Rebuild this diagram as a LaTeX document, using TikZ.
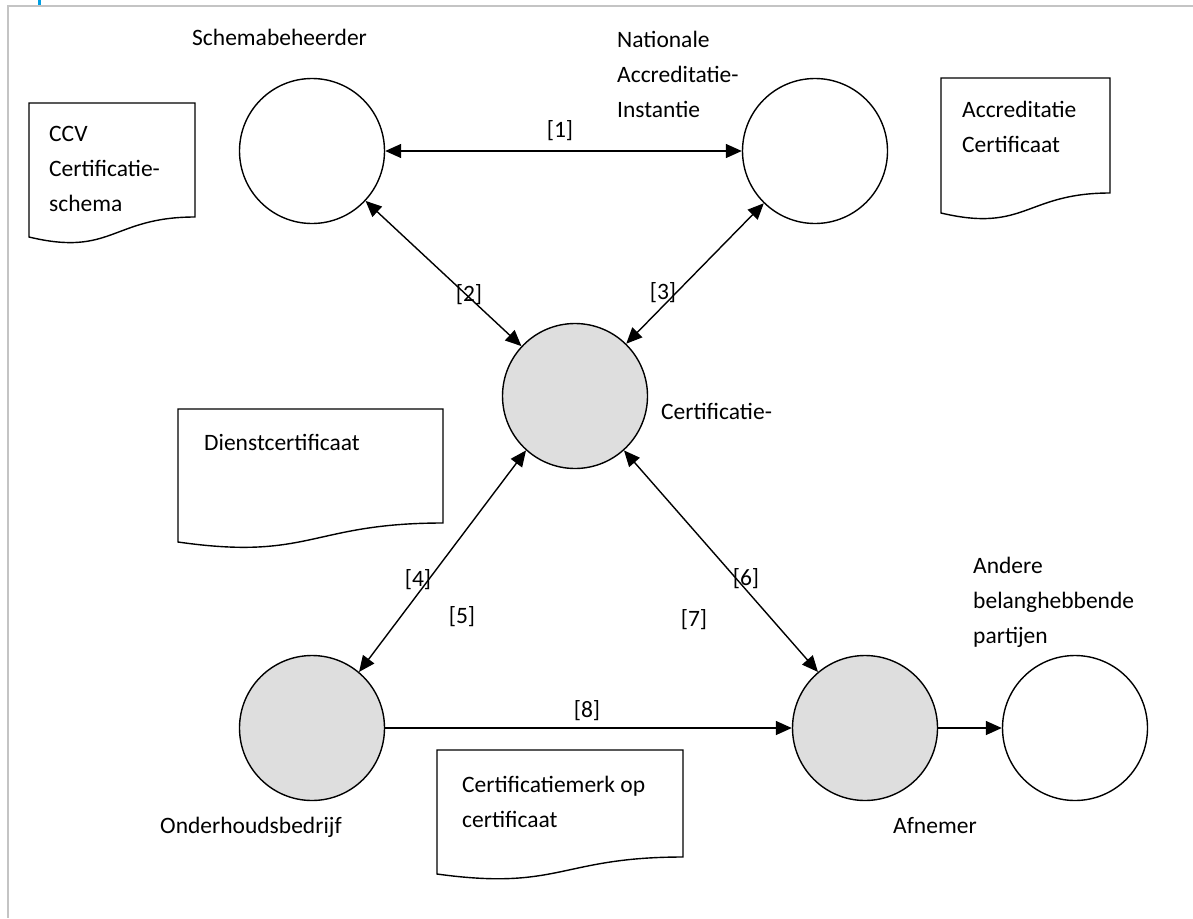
\documentclass[tikz,border=0pt]{standalone}
\usepackage{fontspec}
\setmainfont{Carlito}
\usetikzlibrary{arrows.meta}
\definecolor{framegray}{HTML}{C4C4C4}
\definecolor{tickblue}{HTML}{009FE3}
\definecolor{nodegray}{HTML}{DEDEDE}
\tikzset{
  ent/.style={circle, draw, line width=1.4pt, minimum size=145pt, inner sep=0pt, fill=white},
  entg/.style={ent, fill=nodegray},
  lbl/.style={font=\fontsize{23.5}{35}\selectfont, inner sep=0pt, anchor=base west, align=left},
  num/.style={font=\fontsize{23.5}{35}\selectfont, inner sep=0pt},
  tipA/.tip={Triangle[length=16pt,width=14pt]},
  both/.style={line width=1.4pt, tipA-tipA},
  one/.style={line width=1.4pt, -tipA},
  doc/.style={draw, line width=1.4pt, fill=white},
}
\newcommand{\docpath}[5]{% x0, top, x1, yleft, d
  \draw[doc] (#1,#2) -- (#3,#2) -- (#3,#4-#5)
    .. controls ({0.5*(#1+#3)},#4-#5) and ({0.5*(#1+#3)},#4+#5) .. (#1,#4) -- cycle;}
\begin{document}
\begin{tikzpicture}[x=1pt,y=-1pt]
\useasboundingbox (0,0) rectangle (1193,918);
\fill[white] (0,0) rectangle (1193,918);
% frame
\draw[framegray, line width=2pt] (7,6) -- (1193,6);
\draw[framegray, line width=2pt] (8,6) -- (8,918);
\draw[tickblue, line width=3pt] (39,0) -- (39,5);

% documents
\docpath{29}{103}{195}{237}{20}
\docpath{941}{78}{1110}{213}{20}
\docpath{178}{409}{443}{542}{19}
\docpath{437}{750}{683}{874}{17}

% (multi-line nodes: anchor at the baseline of the last line)
\node[lbl] (tccv) at (49,211) {CCV\\Certificatie-\\schema};
\node[lbl] (tacc) at (962,152) {Accreditatie\\Certificaat};
\node[lbl] (tdienst) at (204,450) {Dienstcertificaat};
\node[lbl] (tmerk) at (462,827) {Certificatiemerk op\\certificaat};

% entities
\node[ent] (s) at (312,151) {};
\node[ent] (n) at (815,151) {};
\node[entg] (c) at (575,396) {};
\node[entg] (o) at (312,728) {};
\node[entg] (a) at (865,728) {};
\node[ent] (p) at (1075,728) {};

% entity labels
\node[lbl] (ls) at (192,45) {Schemabeheerder};
\node[lbl] (ln) at (617,117) {Nationale\\Accreditatie-\\Instantie};
\node[lbl] (lc) at (661,419) {Certificatie-};
\node[lbl] (lp) at (973,643) {Andere\\belanghebbende\\partijen};
\node[lbl] (lo) at (160,833) {Onderhoudsbedrijf};
\node[lbl] (la) at (893,833) {Afnemer};

% connectors
\draw[both] (s) -- (n);
\draw[both] (s) -- (c);
\draw[both] (n) -- (c);
\draw[both] (c.228) -- (o.50);
\draw[both] (c.312) -- (a.130);
\draw[one] (o) -- (a);
\draw[one] (a) -- (p);

% numbers
\node[num] (n1) at (560,131) {[1]};
\node[num] (n2) at (469,295) {[2]};
\node[num] (n3) at (663,293) {[3]};
\node[num] (n4) at (418,580) {[4]};
\node[num] (n5) at (462,617) {[5]};
\node[num] (n6) at (746,579) {[6]};
\node[num] (n7) at (694,620) {[7]};
\node[num] (n8) at (587,711) {[8]};
\end{tikzpicture}
\end{document}
